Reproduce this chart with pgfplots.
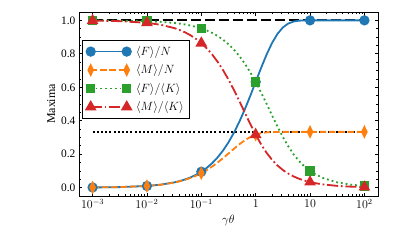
\documentclass[border=0pt]{standalone}
\usepackage{pgfplots}
\pgfplotsset{compat=1.18}
\usepackage{pgfplotstable}
\usepackage{fontspec}
\setmainfont{Liberation Serif}
\definecolor{tabblue}{HTML}{1F77B4}
\definecolor{taborange}{HTML}{FF7F0E}
\definecolor{tabgreen}{HTML}{2CA02C}
\definecolor{tabred}{HTML}{D62728}
\pgfplotstableread{
x f1 f2 f3 f4
0.001 0.0009995 0.0009985 0.9995 0.9985
0.0031623 0.003157 0.003147 0.99842 0.99527
0.01 0.00995 0.009851 0.99502 0.98515
0.017783 0.017626 0.017317 0.99117 0.97379
0.031623 0.031128 0.030170 0.98437 0.95405
0.039811 0.039029 0.037526 0.98036 0.94260
0.050119 0.048884 0.046534 0.97536 0.92846
0.063096 0.061147 0.057485 0.96911 0.91106
0.079433 0.076360 0.070677 0.96131 0.88977
0.1 0.095163 0.086394 0.95163 0.86394
0.125893 0.118291 0.104850 0.93962 0.83285
0.158489 0.146568 0.126135 0.92478 0.79586
0.199526 0.180881 0.150136 0.90655 0.75246
0.251189 0.222124 0.176438 0.88430 0.70241
0.316228 0.271107 0.204250 0.85732 0.64589
0.398107 0.328410 0.232364 0.82493 0.58367
0.501187 0.394188 0.259221 0.78651 0.51721
0.630957 0.467917 0.283120 0.74160 0.44872
0.794328 0.548115 0.302575 0.69003 0.38092
1 0.632121 0.316738 0.63212 0.31674
1.258925 0.716041 0.325701 0.56877 0.25871
1.584893 0.795030 0.330463 0.50163 0.20851
1.995262 0.864022 0.332495 0.43304 0.16664
2.511886 0.918885 0.333155 0.36581 0.13263
3.162278 0.957671 0.333308 0.30284 0.10540
3.981072 0.981334 0.333331 0.24650 0.083729
5.011872 0.993342 0.333333 0.19820 0.066509
6.309573 0.998181 0.333333 0.15820 0.052829
7.943282 0.999645 0.333333 0.12585 0.041964
10 0.999955 0.333333 0.099995 0.033333
12.589254 0.999997 0.333333 0.079433 0.026478
17.782794 1.0 0.333333 0.056234 0.018745
31.622777 1.0 0.333333 0.031623 0.010541
56.234133 1.0 0.333333 0.017783 0.005928
100 1.0 0.333333 0.01 0.003333
}\datatable
\pgfplotstableread{
x y
0.001 1.0
100 1.0
}\lineone
\pgfplotstableread{
x y
0.001 0.333333
100 0.333333
}\linethird
\begin{document}
\begin{tikzpicture}
\begin{axis}[
  at={(0,0)}, anchor=south west,
  scale only axis, width=299bp, height=184bp,
  xmode=log, xmin=0.000562341, xmax=177.8279,
  ymin=-0.05, ymax=1.05,
  xtick={0.001,0.01,0.1,1,10,100},
  xticklabels={$10^{-3}$,$10^{-2}$,$10^{-1}$,$1$,$10$,$10^{2}$},
  ytick={0,0.2,0.4,0.6,0.8,1.0},
  minor ytick={0.05,0.1,0.15,0.25,0.3,0.35,0.45,0.5,0.55,0.65,0.7,0.75,0.85,0.9,0.95},
  yticklabel style={/pgf/number format/.cd, fixed, fixed zerofill, precision=1, assume math mode=true},
  xtick pos=both, ytick pos=both,
  tick align=inside,
  major tick length=3.5bp, minor tick length=2bp,
  every tick/.style={black, line width=0.8bp},
  axis line style={line width=0.8bp, black},
  tick label style={font=\fontsize{11.5}{13}\selectfont},
  label style={font=\fontsize{12}{14}\selectfont},
  xlabel={$\gamma\theta$}, ylabel={Maxima},
  xlabel style={yshift=1bp},
  ylabel style={yshift=-1bp},
  legend style={at={(0.01,0.848)}, anchor=north west, draw=black, line width=0.8bp,
    font=\fontsize{12}{14}\selectfont, inner xsep=4bp, inner ysep=4bp, row sep=4bp, fill=white,
    /tikz/every odd column/.append style={column sep=3bp}},
  legend cell align=left,
  legend image code/.code={\draw[#1, mark indices={1,2}] plot coordinates {(0bp,0bp) (36bp,0bp)};},
]
\addplot[black, line width=1.8bp, dash pattern=on 10bp off 4bp, forget plot] table {\lineone};
\addplot[black, line width=2bp, dash pattern=on 2bp off 2.2bp, forget plot] table {\linethird};
\addplot[tabblue, line width=1.8bp, mark=*, mark size=4.2bp, mark options={solid, fill=tabblue}, mark indices={1,3,10,20,30,35}] table[x=x, y=f1] {\datatable};
\addlegendentry{$\langle F\rangle/N$}
\addplot[taborange, line width=1.8bp, dash pattern=on 6.5bp off 2.8bp, mark=diamond*, mark size=4.8bp, mark options={solid, fill=taborange, xscale=0.65}, mark indices={1,3,10,20,30,35}] table[x=x, y=f2] {\datatable};
\addlegendentry{$\langle M\rangle/N$}
\addplot[tabgreen, line width=1.8bp, dash pattern=on 1.8bp off 3bp, mark=square*, mark size=3.8bp, mark options={solid, fill=tabgreen}, mark indices={1,3,10,20,30,35}] table[x=x, y=f3] {\datatable};
\addlegendentry{$\langle F\rangle/\langle K\rangle$}
\addplot[tabred, line width=1.8bp, dash pattern=on 11bp off 2.8bp on 1.8bp off 2.8bp, mark=triangle*, mark size=5bp, mark options={solid, fill=tabred}, mark indices={1,3,10,20,30,35}] table[x=x, y=f4] {\datatable};
\addlegendentry{$\langle M\rangle/\langle K\rangle$}
\end{axis}
\pgfresetboundingbox
\useasboundingbox (-79bp,-50bp) rectangle (319bp,196bp);
\end{tikzpicture}
\end{document}
